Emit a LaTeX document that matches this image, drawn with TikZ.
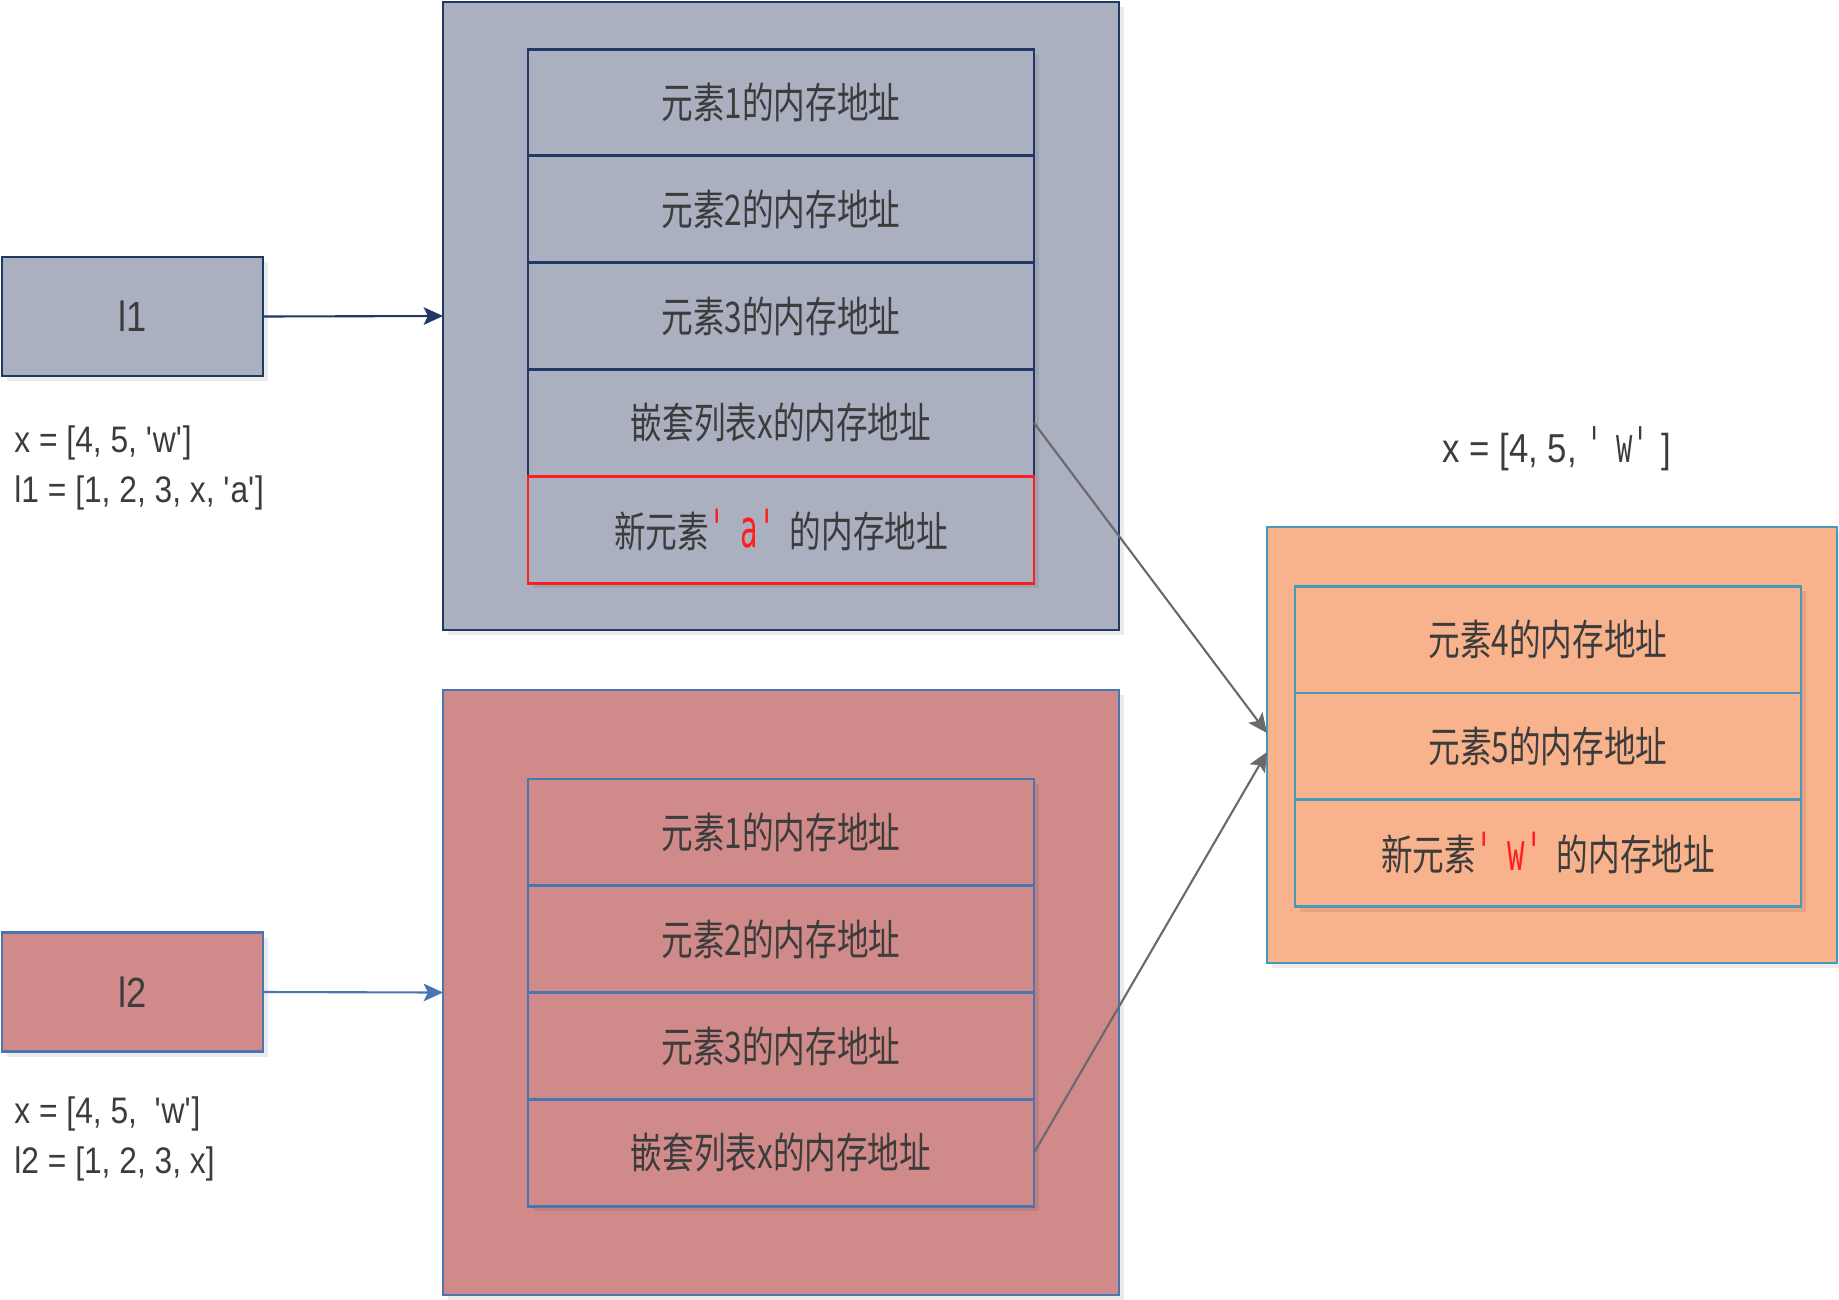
\documentclass[tikz,border=0pt]{standalone}
\usepackage{fontspec}
\setmainfont{Liberation Sans}
\newfontfamily\codefont[FakeStretch=0.86]{Liberation Sans}
\newfontfamily\cjkfont[FakeStretch=0.75]{Noto Sans CJK SC}
\newfontfamily\quotefont[FakeStretch=0.55]{DejaVu Sans Mono}
\usetikzlibrary{positioning,arrows.meta,shadows}
\definecolor{grayfill}{RGB}{170,176,191}
\definecolor{navyline}{RGB}{31,56,100}
\definecolor{rosefill}{RGB}{207,138,137}
\definecolor{blueline}{RGB}{74,117,176}
\definecolor{peachfill}{RGB}{248,178,140}
\definecolor{tealline}{RGB}{72,152,184}
\definecolor{addred}{RGB}{255,30,30}
\definecolor{textgray}{RGB}{60,60,60}
\definecolor{refline}{RGB}{105,105,110}
\newcommand{\newquote}[1]{{\quotefont\fontsize{15}{16}\selectfont\color{addred}\textquotesingle#1\textquotesingle}}

\begin{document}
\begin{tikzpicture}[
    every node/.style={text=textgray},
    boxshadow/.style={drop shadow={shadow xshift=0.05cm, shadow yshift=-0.05cm, fill=black, opacity=0.08}},
    listbox/.style={draw, line width=0.8pt, boxshadow, minimum width=6.76cm, inner sep=0pt, outer sep=0pt},
    namebox/.style={draw, line width=0.8pt, boxshadow, minimum width=2.61cm, minimum height=1.19cm, outer sep=0pt, font=\codefont\fontsize{12}{14}\selectfont},
    cell/.style={draw, line width=0.8pt, boxshadow, minimum width=5.06cm, minimum height=1.068cm, inner sep=0pt, outer sep=0pt, font=\cjkfont\fontsize{12}{14}\selectfont},
    code/.style={anchor=west, align=left, font=\codefont\fontsize{10.5}{14.2}\selectfont},
    link/.style={line width=0.6pt, -{Stealth[length=5.5pt, width=5pt, inset=1.2pt]}},
]
    \useasboundingbox (0,0) rectangle (18.39,-12.99);

    % Liste l1
    \node[namebox, draw=navyline, fill=grayfill] (l1) at (1.325,-3.165) {l1};
    \node[listbox, draw=navyline, fill=grayfill, minimum height=6.28cm] (list1) at (7.81,-3.16) {};
    \node[cell, draw=navyline, fill=grayfill] (a1) at (7.81,-1.025) {元素1的内存地址};
    \node[cell, draw=navyline, fill=grayfill, below=0pt of a1] (a2) {元素2的内存地址};
    \node[cell, draw=navyline, fill=grayfill, below=0pt of a2] (a3) {元素3的内存地址};
    \node[cell, draw=navyline, fill=grayfill, below=0pt of a3] (nest1) {嵌套列表x的内存地址};
    \node[cell, draw=addred, fill=grayfill, below=0pt of nest1] (new1) {新元素\newquote{a}的内存地址};
    \node[code] (code1) at (0.02,-4.68) {x = [4, 5, \textquotesingle w\textquotesingle]\\l1 = [1, 2, 3, x, \textquotesingle a\textquotesingle]};

    % Liste l2
    \node[namebox, draw=blueline, fill=rosefill] (l2) at (1.325,-9.92) {l2};
    \node[listbox, draw=blueline, fill=rosefill, minimum height=6.05cm] (list2) at (7.81,-9.925) {};
    \node[cell, draw=blueline, fill=rosefill] (c1) at (7.81,-8.324) {元素1的内存地址};
    \node[cell, draw=blueline, fill=rosefill, below=0pt of c1] (c2) {元素2的内存地址};
    \node[cell, draw=blueline, fill=rosefill, below=0pt of c2] (c3) {元素3的内存地址};
    \node[cell, draw=blueline, fill=rosefill, below=0pt of c3] (nest2) {嵌套列表x的内存地址};
    \node[code] (code2) at (0.02,-11.39) {x = [4, 5, \ \textquotesingle w\textquotesingle]\\l2 = [1, 2, 3, x]};

    % Liste x
    \node[font=\codefont\fontsize{11.5}{13}\selectfont] (xlabel) at (15.57,-4.49) {x = [4, 5, {\quotefont\fontsize{14}{15}\selectfont\textquotesingle w\textquotesingle}]};
    \node[listbox, draw=tealline, fill=peachfill, minimum width=5.70cm, minimum height=4.36cm] (xbox) at (15.52,-7.45) {};
    \node[cell, draw=tealline, fill=peachfill] (b1) at (15.48,-6.395) {元素4的内存地址};
    \node[cell, draw=tealline, fill=peachfill, below=0pt of b1] (b2) {元素5的内存地址};
    \node[cell, draw=tealline, fill=peachfill, below=0pt of b2] (b3) {新元素\newquote{w}的内存地址};

    % Fleches
    \draw[link, navyline] (l1.east) -- (list1.west);
    \draw[link, blueline] (l2.east) -- (list2.west);
    \draw[link, refline] (nest1.east) -- ([yshift=0.12cm]xbox.west);
    \draw[link, refline] (nest2.east) -- ([yshift=-0.07cm]xbox.west);
\end{tikzpicture}
\end{document}
